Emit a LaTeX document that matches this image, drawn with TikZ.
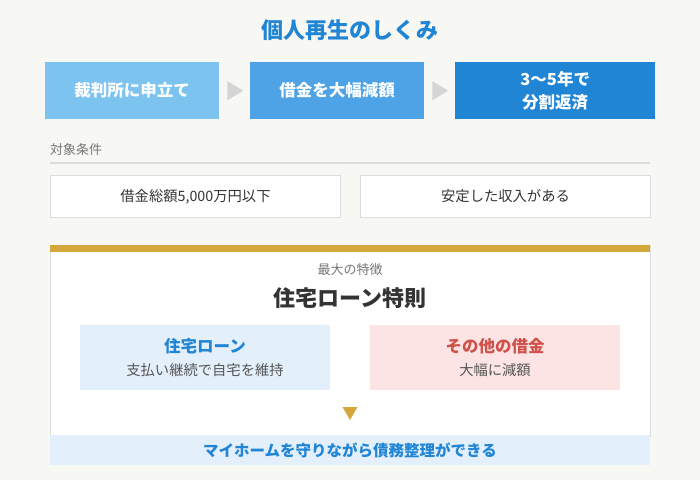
\documentclass[tikz,border=0pt]{standalone}
\usepackage{fontspec}
\setmainfont{Noto Sans CJK JP}
\usetikzlibrary{positioning}
\definecolor{bg}{HTML}{F7F7F3}
\definecolor{tblue}{HTML}{2185D5}
\definecolor{sblue1}{HTML}{7DC3F0}
\definecolor{sblue2}{HTML}{4DA3E6}
\definecolor{sblue3}{HTML}{2185D5}
\definecolor{arrowgray}{HTML}{D5D5D5}
\definecolor{lgray}{HTML}{DDDDDD}
\definecolor{txtdark}{HTML}{333333}
\definecolor{txtgray}{HTML}{777777}
\definecolor{gold}{HTML}{D4A73A}
\definecolor{paleblue}{HTML}{E3F0FB}
\definecolor{palered}{HTML}{FCE4E4}
\definecolor{redtxt}{HTML}{D0504A}
\definecolor{midtxt}{HTML}{555555}
\tikzset{
  stepbox/.style={anchor=north west, inner sep=0pt, text=white, font=\fontsize{16.5}{21}\selectfont\bfseries, align=center},
  condbox/.style={anchor=north west, inner sep=0pt, draw=lgray, line width=1pt, fill=white, text=txtdark, font=\fontsize{14.3}{17}\selectfont, minimum width=290pt, minimum height=42pt},
  subbox/.style={anchor=north west, inner sep=0pt, minimum width=250pt, minimum height=65pt},
}
\begin{document}
\begin{tikzpicture}[x=1pt,y=-1pt]
\useasboundingbox (0,0) rectangle (700,480);
\fill[bg] (0,0) rectangle (700,480);
% title
\node[text=tblue, font=\fontsize{22}{26}\selectfont\bfseries] (title) at (350,30) {個人再生のしくみ};
% steps
\node[stepbox, fill=sblue1, minimum width=174pt, minimum height=57pt] (s1) at (45,62) {裁判所に申立て};
\node[stepbox, fill=sblue2, minimum width=174pt, minimum height=57pt] (s2) at (250,62) {借金を大幅減額};
\node[stepbox, fill=sblue3, minimum width=200pt, minimum height=57pt, font=\fontsize{16.5}{23}\selectfont\bfseries] (s3) at (455,62) {3〜5年で\\分割返済};
\fill[arrowgray] ([xshift=8pt]s1.east) ++(0,-9.5) -- ++(16,9.5) -- ++(-16,9.5) -- cycle;
\fill[arrowgray] ([xshift=8pt]s2.east) ++(0,-9.5) -- ++(16,9.5) -- ++(-16,9.5) -- cycle;
% conditions
\node[anchor=west, inner sep=0pt, text=txtgray, font=\fontsize{13}{15}\selectfont] (cond) at (50,150) {対象条件};
\draw[lgray, line width=2pt] (50,163) -- (650,163);
\node[condbox] (c1) at (50,175) {借金総額5,000万円以下};
\node[condbox] (c2) at (360,175) {安定した収入がある};
% panel
\draw[lgray, line width=0.8pt, fill=white] (50,245) rectangle (650,436);
\fill[gold] (50,245) rectangle (650,252);
\node[text=txtgray, font=\fontsize{13}{15}\selectfont] (lab) at (350,270) {最大の特徴};
\node[text=txtdark, font=\fontsize{22}{26}\selectfont\bfseries] (feat) at (350,298) {住宅ローン特則};
\node[subbox, fill=paleblue] (b1) at (80,325) {};
\node[text=tblue, font=\fontsize{16.5}{19}\selectfont\bfseries] (b1t) at (205,346) {住宅ローン};
\node[text=midtxt, font=\fontsize{14.3}{17}\selectfont] (b1s) at (205,370) {支払い継続で自宅を維持};
\node[subbox, fill=palered] (b2) at (370,325) {};
\node[text=redtxt, font=\fontsize{16.5}{19}\selectfont\bfseries] (b2t) at (495,346) {その他の借金};
\node[text=midtxt, font=\fontsize{14.3}{17}\selectfont] (b2s) at (495,370) {大幅に減額};
\coordinate (tri) at (350,407);
\fill[gold] (tri) ++(-7.5,0) -- ++(15,0) -- ++(-7.5,13) -- cycle;
\fill[paleblue] (50,435) rectangle (650,465);
\node[text=tblue, font=\fontsize{15.5}{18}\selectfont\bfseries] (res) at (350,450) {マイホームを守りながら債務整理ができる};
\end{tikzpicture}
\end{document}
